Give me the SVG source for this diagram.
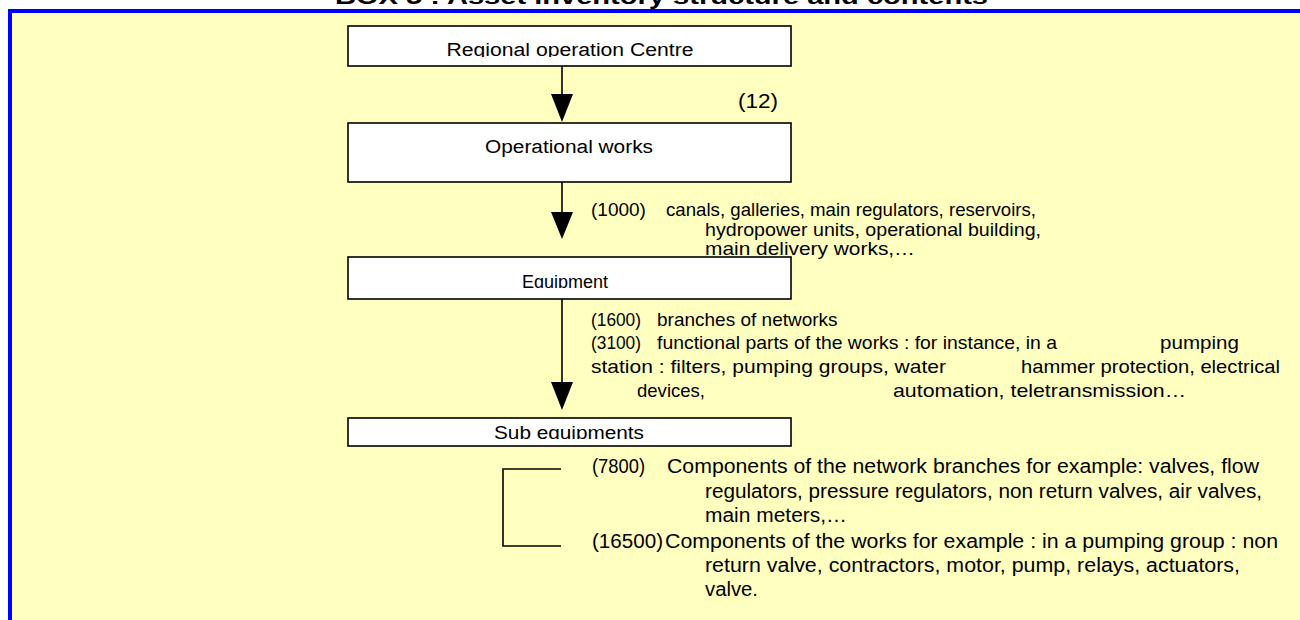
<svg xmlns="http://www.w3.org/2000/svg" width="1300" height="620" viewBox="0 0 1300 620">
  <style>
    text { font-family: "Liberation Sans", Arial, sans-serif; fill: #000; }
    .title { font-size: 22px; font-weight: bold; }
    .box { fill: #fff; stroke: #000; stroke-width: 1.6; }
    .label { font-size: 18px; text-anchor: middle; }
    .t19 { font-size: 19px; }
    .t20 { font-size: 20px; }
    .edge { stroke: #000; stroke-width: 1.6; fill: none; }
    .head { fill: #000; }
  </style>
  <defs>
    <clipPath id="clipRegional"><rect x="348" y="26" width="443" height="31"/></clipPath>
    <clipPath id="clipEquipment"><rect x="348" y="257" width="443" height="31"/></clipPath>
    <clipPath id="clipSub"><rect x="348" y="418" width="443" height="21"/></clipPath>
  </defs>

  <!-- page -->
  <rect x="0" y="0" width="1300" height="620" fill="#fff"/>
  <text class="title" x="335" y="4" textLength="653" lengthAdjust="spacingAndGlyphs">BOX 5 : Asset inventory structure and contents</text>
  <rect x="10" y="11" width="1300" height="620" fill="#FFFFC0" stroke="#0000FF" stroke-width="4"/>

  <!-- connectors -->
  <g id="connectors">
    <line class="edge" x1="562" y1="66" x2="562" y2="95"/>
    <polygon class="head" points="551,94 573,94 562,122"/>
    <line class="edge" x1="562" y1="182" x2="562" y2="213"/>
    <polygon class="head" points="551,212 573,212 562,239"/>
    <line class="edge" x1="562" y1="299" x2="562" y2="383"/>
    <polygon class="head" points="551,382 573,382 562,410"/>
    <polyline class="edge" points="561,469 503,469 503,546 561,546"/>
  </g>

  <!-- nodes -->
  <g id="node-regional">
    <rect class="box" x="348" y="26" width="443" height="40"/>
    <text class="label" x="570" y="56" clip-path="url(#clipRegional)" textLength="247" lengthAdjust="spacingAndGlyphs">Regional operation Centre</text>
  </g>
  <g id="node-works">
    <rect class="box" x="348" y="123" width="443" height="59"/>
    <text class="label" x="569" y="153" textLength="168" lengthAdjust="spacingAndGlyphs">Operational works</text>
  </g>
  <g id="node-equipment">
    <rect class="box" x="348" y="257" width="443" height="42"/>
    <text class="label" x="565" y="288" clip-path="url(#clipEquipment)">Equipment</text>
  </g>
  <g id="node-sub">
    <rect class="box" x="348" y="418" width="443" height="28"/>
    <text class="label" x="569" y="439" clip-path="url(#clipSub)" textLength="150" lengthAdjust="spacingAndGlyphs">Sub equipments</text>
  </g>

  <!-- annotations -->
  <g id="notes">
    <text class="t20" x="738" y="108" textLength="40" lengthAdjust="spacingAndGlyphs">(12)</text>

    <text class="t19" x="591" y="216">(1000)</text>
    <text class="t19" x="666" y="216" textLength="370" lengthAdjust="spacingAndGlyphs">canals, galleries, main regulators, reservoirs,</text>
    <text class="t19" x="705" y="236" textLength="336" lengthAdjust="spacingAndGlyphs">hydropower units, operational building,</text>
    <text class="t19" x="705" y="255" textLength="210" lengthAdjust="spacingAndGlyphs">main delivery works,…</text>

    <text class="t19" x="591" y="326" textLength="50" lengthAdjust="spacingAndGlyphs">(1600)</text>
    <text class="t19" x="657" y="326">branches of networks</text>
    <text class="t19" x="591" y="349" textLength="50" lengthAdjust="spacingAndGlyphs">(3100)</text>
    <text class="t19" x="657" y="349" textLength="400" lengthAdjust="spacingAndGlyphs">functional parts of the works : for instance, in a</text>
    <text class="t19" x="1160" y="349" textLength="79" lengthAdjust="spacingAndGlyphs">pumping</text>
    <text class="t19" x="591" y="373" textLength="355" lengthAdjust="spacingAndGlyphs">station : filters, pumping groups, water</text>
    <text class="t19" x="1021" y="373" textLength="259" lengthAdjust="spacingAndGlyphs">hammer protection, electrical</text>
    <text class="t19" x="637" y="397" textLength="68" lengthAdjust="spacingAndGlyphs">devices,</text>
    <text class="t19" x="893" y="397" textLength="293" lengthAdjust="spacingAndGlyphs">automation, teletransmission…</text>

    <text class="t20" x="592" y="473" textLength="53" lengthAdjust="spacingAndGlyphs">(7800)</text>
    <text class="t20" x="667" y="473" textLength="592" lengthAdjust="spacingAndGlyphs">Components of the network branches for example: valves, flow</text>
    <text class="t20" x="705" y="498" textLength="557" lengthAdjust="spacingAndGlyphs">regulators, pressure regulators, non return valves, air valves,</text>
    <text class="t20" x="705" y="522" textLength="142" lengthAdjust="spacingAndGlyphs">main meters,…</text>
    <text class="t20" x="592" y="548" textLength="71" lengthAdjust="spacingAndGlyphs">(16500)</text>
    <text class="t20" x="665" y="548" textLength="613" lengthAdjust="spacingAndGlyphs">Components of the works for example : in a pumping group : non</text>
    <text class="t20" x="705" y="572" textLength="535" lengthAdjust="spacingAndGlyphs">return valve, contractors, motor, pump, relays, actuators,</text>
    <text class="t20" x="705" y="596" textLength="53" lengthAdjust="spacingAndGlyphs">valve.</text>
  </g>
</svg>
